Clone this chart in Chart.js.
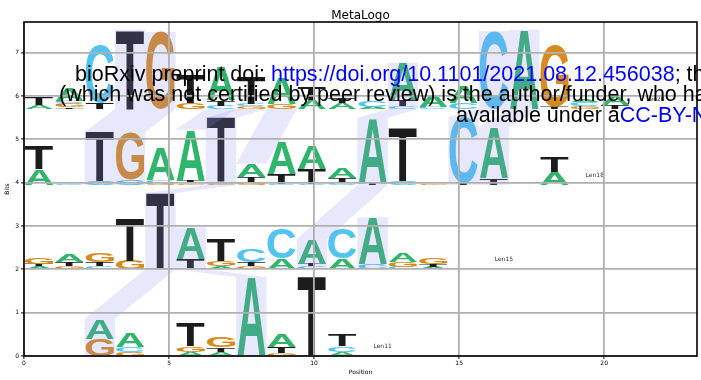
<!DOCTYPE html>
<html>
<head>
<meta charset="utf-8">
<script src="https://cdn.jsdelivr.net/npm/chart.js@4.4.0/dist/chart.umd.min.js"></script>
<style>
  body { margin: 0; background: #fff; }
  #wrap { position: relative; width: 701px; height: 380px; overflow: hidden; }
  #title { position: absolute; left: 24px; width: 673px; top: 8px; text-align: center;
           font-family: "DejaVu Sans", sans-serif; font-size: 12px; line-height: 14px; color: #000; }
  .note { position: absolute; font-family: "Liberation Sans", Arial, sans-serif; font-size: 21.5px;
          line-height: 21px; white-space: nowrap; color: #000; }
  .blue { color: #0000ff; }
</style>
</head>
<body>
<div id="wrap">
  <canvas id="logo" width="701" height="380"></canvas>
  <div id="title">MetaLogo</div>
  <div class="note" style="left:75px;top:64px">bioRxiv preprint doi: <span class="blue">https://doi.org/10.1101/2021.08.12.456038</span>; this version posted August 13, 2021. The copyright holder for this preprint</div>
  <div class="note" style="left:59px;top:84px">(which was not certified by peer review) is the author/funder, who has granted bioRxiv a license to display the preprint in perpetuity. It is made</div>
  <div class="note" style="left:456px;top:105px">available under a<span class="blue">CC-BY-NC-ND 4.0 International license</span>.</div>
</div>
<script>
// one logo row per sequence length, stacks are bottom -> top [letter, bits]
const rowNames = ["Len11", "Len15", "Len18", "Len20"];
const rowBaselines = [0, 2, 3.95, 5.7];

const len11Stacks = [
  [], [["C", 0.02]], [["G", 0.4], ["A", 0.46]], [["G", 0.08], ["C", 0.12], ["A", 0.33]], [],
  [["A", 0.1], ["G", 0.12], ["T", 0.55]], [["A", 0.1], ["T", 0.1], ["G", 0.25]], [["A", 1.82]],
  [["G", 0.06], ["T", 0.14], ["A", 0.3]], [["T", 1.85]], [["A", 0.1], ["C", 0.12], ["T", 0.26]],
];
const len15Stacks = [
  [["A", 0.07], ["T", 0.05], ["G", 0.15]], [["G", 0.07], ["T", 0.1], ["A", 0.18]],
  [["C", 0.07], ["T", 0.1], ["G", 0.2]], [["G", 0.2], ["T", 1.0]], [["T", 1.76]],
  [["T", 0.25], ["A", 0.72]], [["A", 0.07], ["G", 0.12], ["T", 0.5]], [["G", 0.07], ["T", 0.1], ["C", 0.3]],
  [["A", 0.25], ["C", 0.7]], [["C", 0.07], ["T", 0.06], ["A", 0.57]], [["A", 0.25], ["C", 0.7]],
  [["C", 0.12], ["A", 1.08]], [["C", 0.05], ["G", 0.12], ["A", 0.2]], [["A", 0.05], ["T", 0.07], ["G", 0.15]], [],
];
const len18Stacks = [
  [["A", 0.37], ["T", 0.53]], [["C", 0.03]], [["C", 0.08], ["T", 1.14]], [["C", 0.12], ["G", 1.1]],
  [["G", 0.05], ["C", 0.07], ["A", 0.75]], [["G", 0.04], ["T", 0.06], ["A", 1.17]],
  [["G", 0.03], ["C", 0.03], ["T", 1.49]], [["G", 0.07], ["T", 0.12], ["A", 0.3]],
  [["C", 0.03], ["T", 0.23], ["A", 0.74]], [["C", 0.02], ["T", 0.35], ["A", 0.55]],
  [["C", 0.07], ["T", 0.1], ["A", 0.25]], [["T", 0.05], ["A", 1.5]], [["C", 0.1], ["T", 1.23]],
  [["G", 0.04], ["A", 0.03]], [["T", 0.05], ["C", 1.52]], [["T", 0.15], ["A", 1.18]], [],
  [["A", 0.3], ["T", 0.35]],
];
const len20Stacks = [
  [["A", 0.1], ["T", 0.17]], [["T", 0.04], ["G", 0.1], ["C", 0.05], ["A", 0.3]], [["T", 0.15], ["C", 1.33]],
  [["T", 1.83]], [["G", 1.78]], [["G", 0.15], ["T", 0.65]], [["C", 0.08], ["T", 0.12], ["A", 0.77]],
  [["G", 0.06], ["C", 0.06], ["T", 0.62]], [["G", 0.12], ["A", 0.6]], [["A", 0.2], ["T", 0.3]],
  [["A", 0.15], ["T", 0.12]], [["A", 0.05], ["C", 0.15]], [["C", 0.07], ["T", 0.14], ["A", 0.86]],
  [["C", 0.05], ["A", 0.28]], [["C", 0.15], ["A", 0.4]], [["C", 1.8]], [["A", 1.83]],
  [["T", 0.05], ["G", 1.43]], [["G", 0.06], ["C", 0.1], ["A", 0.05]], [["T", 0.1], ["A", 0.2]],
];
const rows = [len11Stacks, len15Stacks, len18Stacks, len20Stacks];

// [row, column] of highlighted columns, and links [rowA, colA, rowB, colB]
const highlightCols = [[0, 2], [0, 7], [1, 4], [1, 5], [1, 9], [1, 11], [2, 2], [2, 3], [2, 6], [2, 11],
  [2, 14], [2, 15], [3, 3], [3, 4], [3, 12], [3, 15], [3, 16]];
const linkCols = [[0, 2, 1, 4], [0, 7, 1, 5], [1, 4, 2, 6], [1, 9, 2, 11], [2, 2, 3, 3], [2, 3, 3, 4],
  [2, 5, 3, 6], [2, 6, 3, 7], [2, 7, 3, 8], [2, 11, 3, 12], [2, 14, 3, 15], [2, 15, 3, 16]];

const xTicks = [0, 5, 10, 15, 20];
const yTicks = [0, 1, 2, 3, 4, 5, 6, 7];

const letterColors = { A: "#31b46c", C: "#52c4ef", G: "#d78a1e", T: "#1c1c1c" };
const colStep = 1.045;
const letterPad = 0.035;
const glyphFont = 'bold 100px "Liberation Sans"';
const glyphMetrics = {};

function stackTop(r, c) {
  return rows[r][c].reduce((acc, item) => acc + item[1], rowBaselines[r]);
}

function drawLetter(ctx, ch, px0, px1, pyBottom, pyTop) {
  const h = pyBottom - pyTop;
  if (h < 0.4) return;
  ctx.font = glyphFont;
  if (!glyphMetrics[ch]) glyphMetrics[ch] = ctx.measureText(ch);
  const m = glyphMetrics[ch];
  const gw = m.actualBoundingBoxLeft + m.actualBoundingBoxRight;
  const gh = m.actualBoundingBoxAscent + m.actualBoundingBoxDescent;
  ctx.save();
  ctx.translate(px0, pyBottom);
  ctx.scale((px1 - px0) / gw, h / gh);
  ctx.fillStyle = letterColors[ch];
  ctx.textBaseline = "alphabetic";
  ctx.fillText(ch, m.actualBoundingBoxLeft, -m.actualBoundingBoxDescent);
  ctx.restore();
}

const logoPlugin = {
  id: "metalogo",
  beforeDatasetsDraw(chart) {
    const { ctx, chartArea, scales: { x, y } } = chart;
    ctx.save();
    ctx.beginPath();
    ctx.rect(chartArea.left, chartArea.top, chartArea.right - chartArea.left, chartArea.bottom - chartArea.top);
    ctx.clip();

    rows.forEach((stacks, r) => {
      stacks.forEach((stack, c) => {
        let base = rowBaselines[r];
        const px0 = x.getPixelForValue(c * colStep + letterPad);
        const px1 = x.getPixelForValue((c + 1) * colStep - letterPad);
        stack.forEach(([ch, h]) => {
          drawLetter(ctx, ch, px0, px1, y.getPixelForValue(base), y.getPixelForValue(base + h));
          base += h;
        });
      });
    });

    ctx.fillStyle = "rgba(140, 140, 240, 0.2)";
    highlightCols.forEach(([r, c]) => {
      const px0 = x.getPixelForValue(c * colStep);
      const px1 = x.getPixelForValue((c + 1) * colStep);
      const py0 = y.getPixelForValue(rowBaselines[r]);
      const py1 = y.getPixelForValue(stackTop(r, c));
      ctx.fillRect(px0, py1, px1 - px0, py0 - py1);
    });
    linkCols.forEach(([ra, ca, rb, cb]) => {
      const yA = y.getPixelForValue(stackTop(ra, ca));
      const yB = y.getPixelForValue(rowBaselines[rb]);
      ctx.beginPath();
      ctx.moveTo(x.getPixelForValue(ca * colStep), yA);
      ctx.lineTo(x.getPixelForValue((ca + 1) * colStep), yA);
      ctx.lineTo(x.getPixelForValue((cb + 1) * colStep), yB);
      ctx.lineTo(x.getPixelForValue(cb * colStep), yB);
      ctx.closePath();
      ctx.fill();
    });

    ctx.font = '6px "DejaVu Sans"';
    ctx.fillStyle = "#333";
    ctx.textBaseline = "middle";
    ctx.textAlign = "left";
    rows.forEach((stacks, r) => {
      ctx.fillText(rowNames[r], x.getPixelForValue(stacks.length * colStep + 0.55),
        y.getPixelForValue(rowBaselines[r] + 0.22));
    });
    ctx.restore();
  },
  afterDraw(chart) {
    const { ctx, chartArea } = chart;
    ctx.save();
    ctx.strokeStyle = "#000";
    ctx.lineWidth = 1.6;
    ctx.strokeRect(chartArea.left, chartArea.top, chartArea.right - chartArea.left, chartArea.bottom - chartArea.top);
    ctx.restore();
  },
};

const tickFont = { family: "DejaVu Sans", size: 6 };

new Chart(document.getElementById("logo"), {
  type: "scatter",
  data: { datasets: [] },
  options: {
    responsive: false,
    animation: false,
    layout: { padding: { top: 22, right: 4, left: 0, bottom: 0 } },
    plugins: { legend: { display: false }, tooltip: { enabled: false }, title: { display: false } },
    scales: {
      x: {
        type: "linear",
        min: 0,
        max: 23.2,
        afterFit: (s) => { s.height = 24; },
        afterBuildTicks: (s) => { s.ticks = xTicks.map((v) => ({ value: v })); },
        ticks: { font: tickFont, color: "#000", padding: 1, maxRotation: 0 },
        grid: { color: "#b0b0b0", lineWidth: 1.8, z: 1, tickLength: 3, tickColor: "#000", tickWidth: 1 },
        border: { display: false },
        title: { display: true, text: "Position", font: tickFont, color: "#000", padding: { top: 0, bottom: 4 } },
      },
      y: {
        type: "linear",
        min: 0,
        max: 7.71,
        afterFit: (s) => { s.width = 24; },
        afterBuildTicks: (s) => { s.ticks = yTicks.map((v) => ({ value: v })); },
        ticks: { font: tickFont, color: "#000", padding: 2 },
        grid: { color: "#b0b0b0", lineWidth: 1.8, z: 1, tickLength: 3, tickColor: "#000", tickWidth: 1 },
        border: { display: false },
        title: { display: true, text: "Bits", font: tickFont, color: "#000", padding: { top: 4, bottom: 0 } },
      },
    },
  },
  plugins: [logoPlugin],
});
</script>
</body>
</html>
